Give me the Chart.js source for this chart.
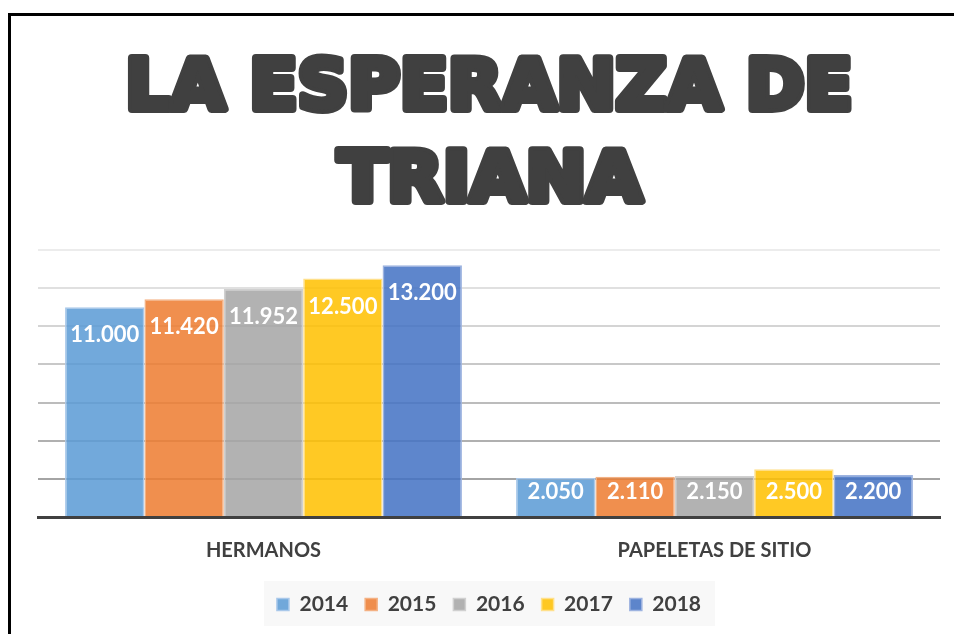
<!DOCTYPE html>
<html>
<head>
<meta charset="utf-8">
<script src="https://cdn.jsdelivr.net/npm/chart.js@4"></script>
<style>
html,body{margin:0;padding:0;background:#fff;}
#wrap{position:relative;width:954px;height:634px;overflow:hidden;}
#frame{position:absolute;left:8px;top:13px;width:1000px;height:700px;border:3px solid #000;box-sizing:border-box;pointer-events:none;}
canvas{position:absolute;left:0;top:0;}
</style>
</head>
<body>
<div id="wrap">
<canvas id="c" width="954" height="634"></canvas>
<div id="frame"></div>
</div>
<script>
const titleLines = ["LA ESPERANZA DE", "TRIANA"];
const categories = ["HERMANOS", "PAPELETAS DE SITIO"];
const years = ["2014", "2015", "2016", "2017", "2018"];
const v2014 = [11000, 2050];
const v2015 = [11420, 2110];
const v2016 = [11952, 2150];
const v2017 = [12500, 2500];
const v2018 = [13200, 2200];
const yTicks = [0, 2000, 4000, 6000, 8000, 10000, 12000, 14000];

const seriesValues = [v2014, v2015, v2016, v2017, v2018];
const fills = ['rgba(91,155,213,0.86)','rgba(237,125,49,0.86)','rgba(165,165,165,0.86)','rgba(255,192,0,0.86)','rgba(68,114,196,0.86)'];
const borders = ['#a9c8ea','#f4b183','#d0d0d0','#ffe08a','#9db3e0'];

function fmt(v){ return v.toString().replace(/\B(?=(\d{3})+(?!\d))/g, '.'); }

const titlePlugin = {
  id:'bigTitle',
  afterDraw(chart){
    const ctx = chart.ctx;
    ctx.save();
    ctx.font = 'bold 70px "DejaVu Sans"';
    ctx.textAlign = 'center';
    ctx.textBaseline = 'alphabetic';
    const specs = [{text:titleLines[0], cx:489, base:109, w:727},{text:titleLines[1], cx:490, base:201, w:304}];
    specs.forEach(s=>{
      const mw = ctx.measureText(s.text).width;
      const sx = s.w / mw;
      ctx.save();
      ctx.translate(s.cx, s.base);
      ctx.scale(sx, 1);
      ctx.lineJoin = 'round';
      ctx.strokeStyle = '#404040';
      ctx.lineWidth = 8;
      ctx.strokeText(s.text, 0, 0);
      ctx.fillStyle = '#404040';
      ctx.fillText(s.text, 0, 0);
      ctx.restore();
    });
    ctx.restore();
  }
};

const labelPlugin = {
  id:'barLabels',
  afterDatasetsDraw(chart){
    const ctx = chart.ctx;
    ctx.save();
    ctx.font = 'bold 22px Lato';
    ctx.fillStyle = '#ffffff';
    ctx.textAlign = 'center';
    ctx.textBaseline = 'middle';
    chart.data.datasets.forEach((ds, i)=>{
      const meta = chart.getDatasetMeta(i);
      meta.data.forEach((bar, j)=>{
        const y = Math.min(bar.y + 28, bar.base - 24);
        ctx.fillText(fmt(ds.data[j]), bar.x, y);
      });
    });
    ctx.restore();
  }
};

const legendBg = {
  id:'legendBg',
  beforeDraw(chart){
    const ctx = chart.ctx;
    ctx.save();
    ctx.fillStyle = '#ffffff';
    ctx.fillRect(0,0,chart.width,chart.height);
    ctx.fillStyle = '#f8f8f8';
    ctx.fillRect(264, 581, 451, 45);
    ctx.restore();
  }
};

new Chart(document.getElementById('c'), {
  type:'bar',
  data:{
    labels: categories,
    datasets: years.map((y,i)=>({
      label:y,
      data:seriesValues[i],
      backgroundColor:fills[i],
      borderColor:borders[i],
      borderWidth:1.5,
      categoryPercentage:0.88,
      barPercentage:1.0
    }))
  },
  options:{
    responsive:false,
    animation:false,
    layout:{padding:{left:38, right:14, top:250, bottom:9}},
    plugins:{
      title:{display:false},
      tooltip:{enabled:false},
      legend:{
        position:'bottom',
        labels:{
          font:{family:'Lato', weight:'bold', size:21},
          color:'#404040',
          boxWidth:12, boxHeight:12,
          padding:17
        }
      }
    },
    scales:{
      x:{
        grid:{display:false},
        border:{display:true, color:'#404040', width:3},
        ticks:{font:{family:'Lato', weight:'bold', size:20}, color:'#404040', padding:14}
      },
      y:{
        min:0, max:14000,
        afterBuildTicks(axis){ axis.ticks = yTicks.map(v=>({value:v})); },
        ticks:{display:false},
        border:{display:false},
        grid:{
          drawTicks:false,
          lineWidth:2,
          color(ctx){
            const v = ctx.tick ? ctx.tick.value : 0;
            if (v === 0) return 'rgba(0,0,0,0)';
            const t = v / 14000;
            const c = Math.round(152 + (236-152)*t);
            return `rgb(${c},${c},${c})`;
          }
        }
      }
    }
  },
  plugins:[legendBg, titlePlugin, labelPlugin]
});
</script>
</body>
</html>
